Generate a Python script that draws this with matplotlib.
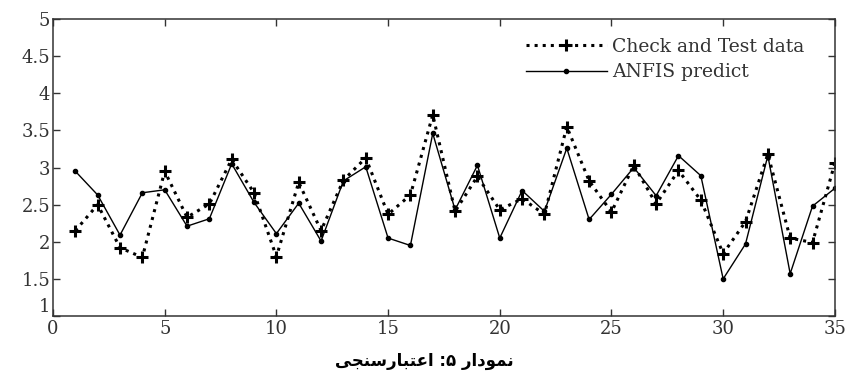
import matplotlib
matplotlib.use("Agg")
import matplotlib.pyplot as plt

# sample index
x = list(range(1, 36))

# Check and Test data (dotted, + markers)
check = [2.15, 2.50, 1.92, 1.79, 2.95, 2.33, 2.51, 3.11, 2.66, 1.80,
         2.80, 2.15, 2.83, 3.13, 2.37, 2.63, 3.71, 2.41, 2.88, 2.43,
         2.58, 2.37, 3.55, 2.82, 2.40, 3.03, 2.51, 2.96, 2.56, 1.84,
         2.27, 3.18, 2.05, 1.99, 3.06]

# ANFIS predict (solid, dot markers)
anfis = [2.95, 2.63, 2.09, 2.66, 2.70, 2.21, 2.31, 3.05, 2.53, 2.11,
         2.52, 2.01, 2.82, 3.01, 2.05, 1.95, 3.46, 2.43, 3.03, 2.05,
         2.69, 2.41, 3.26, 2.30, 2.64, 3.00, 2.62, 3.16, 2.89, 1.50,
         1.97, 3.16, 1.57, 2.48, 2.72]

xticks = [0, 5, 10, 15, 20, 25, 30, 35]
yticks = [1, 1.5, 2, 2.5, 3, 3.5, 4, 4.5, 5]
ytick_labels = ["1", "1.5", "2", "2.5", "3", "3.5", "4", "4.5", "5"]

# caption "نمودار ۵: اعتبارسنجی" hand-shaped (presentation forms, visual order)
word1 = "\uFEAD\uFE8D\uFEA9\uFEEE\uFEE4\uFEE7"                          # نمودار
word2 = "\uFEF0\uFEA0\uFEE8\uFEB3\uFEAD\uFE8E\uFE92\uFE98\uFECB\uFE8D"  # اعتبارسنجی
caption = word2 + " :\u06F5 " + word1

fig = plt.figure(figsize=(8.48, 3.84), dpi=100)
ax = fig.add_axes([0.0625, 0.177, 0.922, 0.7735])

ax.plot(x, check, color="black", linestyle=":", linewidth=2.2,
        marker="+", markersize=9, markeredgewidth=2.2,
        label="Check and Test data")
ax.plot(x, anfis, color="black", linestyle="-", linewidth=1.0,
        marker=".", markersize=6, label="ANFIS predict")

ax.set_xlim(0, 35)
ax.set_ylim(1, 5)
ax.set_xticks(xticks)
ax.set_yticks(yticks)
ax.set_yticklabels(ytick_labels)
ax.tick_params(direction="in", top=True, right=True, length=5, width=1,
               labelsize=13, colors="#333333")
ax.tick_params(axis="x", pad=3)
ax.tick_params(axis="y", pad=2)
for lab in ax.get_xticklabels() + ax.get_yticklabels():
    lab.set_family("DejaVu Serif")
    lab.set_color("#333333")
# the "1" sits a bit higher so it does not run into the "0"
ax.yaxis.get_major_ticks()[0].label1.set_va("bottom")
for s in ax.spines.values():
    s.set_color("#333333")
    s.set_linewidth(1.1)

leg = ax.legend(loc="upper right", frameon=False, handlelength=4.3,
                borderaxespad=0.6, labelspacing=0.4, handletextpad=0.3,
                prop={"family": "DejaVu Serif", "size": 13.5},
                bbox_to_anchor=(0.985, 1.0))
for t in leg.get_texts():
    t.set_color("#333333")

fig.text(0.5, 0.06, caption, ha="center", va="center", fontsize=12,
         fontweight="bold", family=["DejaVu Sans", "Noto Sans"])

fig.savefig("out.png", dpi=100)
